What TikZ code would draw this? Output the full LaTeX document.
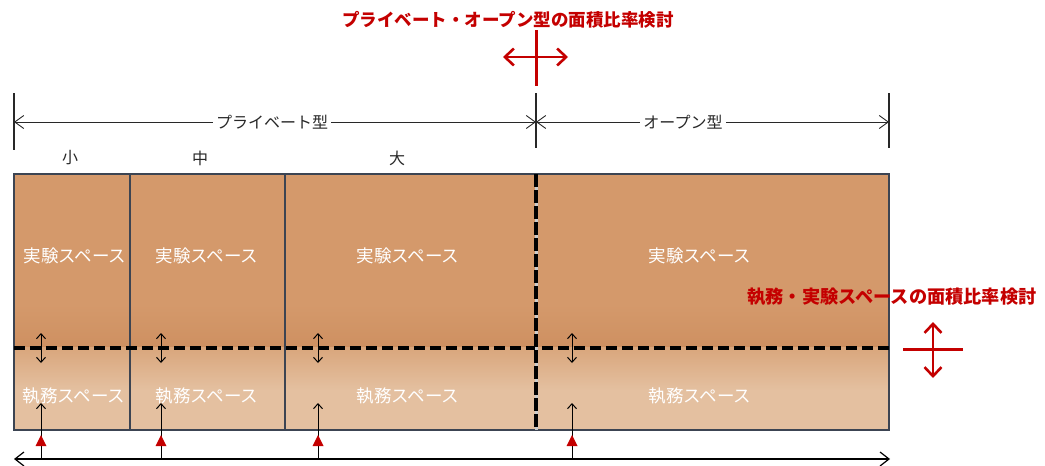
\documentclass[tikz,border=0pt]{standalone}
\usepackage{fontspec}
\newfontfamily\jp{Noto Sans CJK JP}
\usetikzlibrary{arrows.meta}
\definecolor{redc}{RGB}{196,0,0}
\definecolor{topc}{RGB}{212,153,107}
\definecolor{topd}{RGB}{206,144,97}
\definecolor{lowa}{RGB}{217,166,124}
\definecolor{lowb}{RGB}{228,192,160}
\definecolor{edge}{RGB}{60,68,82}
\definecolor{dim}{RGB}{40,40,40}
\tikzset{
  dimline/.style={draw=dim,line width=0.9pt},
  tick/.style={draw=dim,line width=1.4pt},
  dimlabel/.style={fill=white,inner sep=3pt,font=\jp\fontsize{16}{16}\selectfont,text=dim},
  sizelabel/.style={font=\jp\fontsize{16}{16}\selectfont,text=dim},
  spacelabel/.style={font=\jp\fontsize{17.5}{17.5}\selectfont,text=white,inner sep=0pt},
  redlabel/.style={font=\jp\bfseries\fontsize{17.5}{17.5}\selectfont,text=redc,inner sep=1pt},
  redlabelb/.style={font=\jp\bfseries\fontsize{18.2}{18.2}\selectfont,text=redc,inner sep=1pt},
  cell/.style={draw=edge,line width=1.1pt},
  barb/.tip={Straight Barb[length=9pt,width=13pt]},
  smallbarb/.tip={Straight Barb[length=5pt,width=9pt]},
  redbarb/.tip={Straight Barb[length=9pt,width=17pt]},
  bigbarb/.tip={Straight Barb[length=9pt,width=14pt]},
}
\begin{document}
\begin{tikzpicture}[x=1pt,y=-1pt]
\useasboundingbox (0,0) rectangle (1045,466);
% fills
\fill[topc] (14,174) rectangle (889,305);
\shade[top color=topc,bottom color=topd] (14,304.5) rectangle (889,348);
\shade[top color=lowa,bottom color=lowb] (14,347.5) rectangle (889,390);
\fill[lowb] (14,389.5) rectangle (889,430);
% cells
\draw[cell] (14,174) rectangle (130,430);
\draw[cell] (130,174) rectangle (285,430);
\draw[cell] (285,174) rectangle (536,430);
\draw[cell] (536,174) rectangle (889,430);
% dashed dividers
\draw[line width=3.5pt,dash pattern=on 11pt off 5pt] (14,348) -- (889,348);
\draw[gray!40,line width=3pt] (536,174) -- (536,430);
\draw[line width=3.5pt,dash pattern=on 13pt off 3pt] (536,174) -- (536,430);
% space labels
\node[spacelabel] (e1) at (75,256) {実験スペース};
\node[spacelabel] (e2) at (207,256) {実験スペース};
\node[spacelabel] (e3) at (408,256) {実験スペース};
\node[spacelabel] (e4) at (700,256) {実験スペース};
\node[spacelabel] (o1) at (74,396) {執務スペース};
\node[spacelabel] (o2) at (207,396) {執務スペース};
\node[spacelabel] (o3) at (408,396) {執務スペース};
\node[spacelabel] (o4) at (700,396) {執務スペース};
% small double arrows
\foreach \i/\x in {1/41,2/161,3/318,4/572}{
  \coordinate (da\i) at (\x,333);
  \coordinate (db\i) at (\x,363);
  \draw[line width=1pt,smallbarb-smallbarb] (da\i) -- (db\i);
  \coordinate (ub\i) at (\x,459);
  \coordinate (ut\i) at (\x,403);
  \draw[line width=1pt,-smallbarb] (ub\i) -- (ut\i);
  \fill[redc] (\x,435) -- (\x+5.5,446) -- (\x-5.5,446) -- cycle;
}
% bottom arrow
\coordinate (bl) at (14,459);
\coordinate (br) at (890,459);
\draw[line width=1.2pt,bigbarb-bigbarb] (bl) -- (br);
% dimension lines
\coordinate (t1a) at (14,93); \coordinate (t1b) at (14,150);
\coordinate (t2a) at (536,93); \coordinate (t2b) at (536,148);
\coordinate (t3a) at (889,93); \coordinate (t3b) at (889,148);
\draw[tick] (t1a) -- (t1b);
\draw[tick] (t2a) -- (t2b);
\draw[tick] (t3a) -- (t3b);
\coordinate (d1) at (14,122); \coordinate (d2) at (536,122); \coordinate (d3) at (889,122);
\draw[dimline,barb-barb] (d1) -- (d2);
\draw[dimline,barb-barb] (d2) -- (d3);
\node[dimlabel] (priv) at (272,122) {プライベート型};
\node[dimlabel] (open) at (683,122) {オープン型};
\node[sizelabel] (s) at (70,158) {小};
\node[sizelabel] (m) at (200,158) {中};
\node[sizelabel] (b) at (397,158) {大};
% red title + cross
\node[redlabel] (title) at (508,20) {プライベート・オープン型の面積比率検討};
\coordinate (rv1) at (536,30); \coordinate (rv2) at (536,86);
\draw[redc,line width=3pt] (rv1) -- (rv2);
\coordinate (rh1) at (503,57); \coordinate (rh2) at (568,57);
\draw[redc,line width=2.6pt,redbarb-redbarb] (rh1) -- (rh2);
% right red label + cross
\node[redlabelb] (title2) at (892,297) {執務・実験スペースの面積比率検討};
\coordinate (qh1) at (903,349); \coordinate (qh2) at (963,349);
\draw[redc,line width=3pt] (qh1) -- (qh2);
\coordinate (qv1) at (933,322); \coordinate (qv2) at (933,378);
\draw[redc,line width=2.6pt,redbarb-redbarb] (qv1) -- (qv2);
\end{tikzpicture}
\end{document}
